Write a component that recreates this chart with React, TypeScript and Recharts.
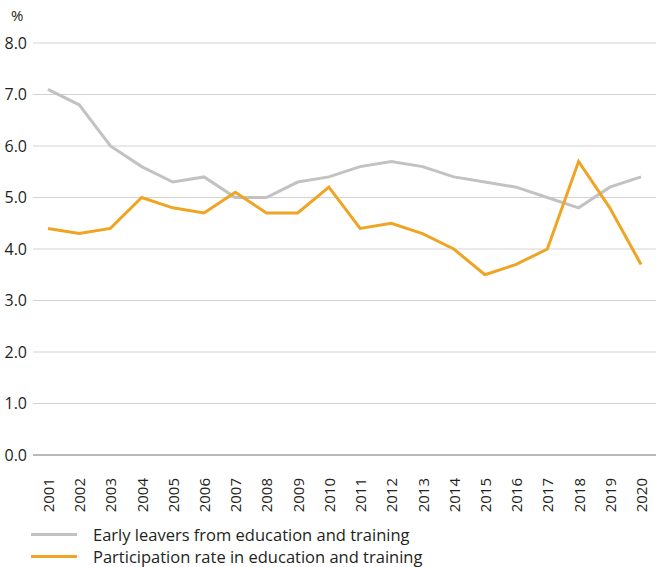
import { LineChart, Line, XAxis, YAxis, CartesianGrid } from 'recharts';

const years = [
  '2001', '2002', '2003', '2004', '2005', '2006', '2007', '2008', '2009', '2010',
  '2011', '2012', '2013', '2014', '2015', '2016', '2017', '2018', '2019', '2020',
];
const earlyLeavers = [7.1, 6.8, 6.0, 5.6, 5.3, 5.4, 5.0, 5.0, 5.3, 5.4, 5.6, 5.7, 5.6, 5.4, 5.3, 5.2, 5.0, 4.8, 5.2, 5.4];
const participation = [4.4, 4.3, 4.4, 5.0, 4.8, 4.7, 5.1, 4.7, 4.7, 5.2, 4.4, 4.5, 4.3, 4.0, 3.5, 3.7, 4.0, 5.7, 4.8, 3.7];
const yTicks = [0, 1, 2, 3, 4, 5, 6, 7, 8];

const GREY = '#c2c2c2';
const ORANGE = '#efa423';
const FONT = '"Open Sans", sans-serif';

const data = years.map((year, i) => ({
  year,
  early: earlyLeavers[i],
  participation: participation[i],
}));

const legendItems = [
  { label: 'Early leavers from education and training', color: GREY },
  { label: 'Participation rate in education and training', color: ORANGE },
];

const YearTick = (props: any) => {
  const { x, y, payload } = props;
  return (
    <text
      transform={`translate(${x},${y + 15}) rotate(-90)`}
      textAnchor="end"
      dominantBaseline="central"
      fontSize={15}
      fontFamily={FONT}
      fill="#231f20"
    >
      {payload.value}
    </text>
  );
};

const App = () => {
  return (
    <div style={{ position: 'absolute', left: 0, top: 0, width: 656, height: 567, fontFamily: FONT }}>
      <span style={{ position: 'absolute', left: 11, top: 5, fontSize: 15, color: '#231f20' }}>%</span>
      <LineChart
        width={656}
        height={567}
        data={data}
        margin={{ top: 43, right: 0, left: 0, bottom: 50 }}
      >
        <CartesianGrid vertical={false} stroke="#d3d3d3" />
        <XAxis
          dataKey="year"
          interval={0}
          height={62}
          padding={{ left: 15, right: 15 }}
          tickLine={false}
          axisLine={{ stroke: '#8a8a8a' }}
          tick={<YearTick />}
        />
        <YAxis
          width={33}
          domain={[0, 8]}
          ticks={yTicks}
          tickLine={false}
          axisLine={false}
          tickSize={0}
          tickMargin={6}
          tickFormatter={(v: number) => v.toFixed(1)}
          tick={{ fontSize: 16, fontFamily: FONT, fill: '#231f20' }}
        />
        <Line type="linear" dataKey="early" stroke={GREY} strokeWidth={3} dot={false} isAnimationActive={false} />
        <Line type="linear" dataKey="participation" stroke={ORANGE} strokeWidth={3} dot={false} isAnimationActive={false} />
      </LineChart>
      <div style={{ position: 'absolute', left: 31, top: 523 }}>
        {legendItems.map((item) => (
          <div key={item.label} style={{ display: 'flex', alignItems: 'center', height: 22 }}>
            <div style={{ width: 46, height: 3, background: item.color }} />
            <span style={{ marginLeft: 16, fontSize: 16.5, color: '#231f20' }}>{item.label}</span>
          </div>
        ))}
      </div>
    </div>
  );
};

export default App;
